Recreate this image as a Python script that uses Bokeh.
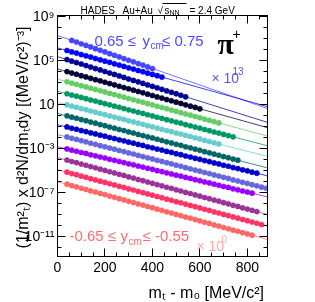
import numpy as np
from bokeh.plotting import figure
from bokeh.models import (FixedTicker, CustomJSTickFormatter, LogAxis, LinearAxis,
                          Label, BoxAnnotation, Range1d)
from bokeh.embed import file_html
from bokeh.resources import INLINE

# ---------------- data ----------------
MT_BINS = [40, 60, 80, 100, 120, 140, 160, 180, 200, 220, 240, 260, 280, 300, 320,
           340, 360, 380, 400, 420, 440, 460, 480, 500, 520, 540, 560, 580, 600, 620,
           640, 660, 680, 700, 720, 740, 760, 780, 800, 820, 840, 860, 880]

RAPIDITY_BINS = ["0.65 - 0.75", "0.55 - 0.65", "0.45 - 0.55", "0.35 - 0.45",
                 "0.25 - 0.35", "0.15 - 0.25", "0.05 - 0.15", "-0.05 - 0.05",
                 "-0.15 - -0.05", "-0.25 - -0.15", "-0.35 - -0.25", "-0.45 - -0.35",
                 "-0.55 - -0.45", "-0.65 - -0.55"]
SCALE_EXP = [13, 12, 11, 10, 9, 8, 7, 6, 5, 4, 3, 2, 1, 0]
FIRST_BIN = [1, 0, 0, 0, 0, 0, 0, 0, 0, 0, 0, 0, 0, 0]

# log10 of scaled (1/mt^2) d2N/dmt dy
LOG_S1 = [6.81, 6.67, 6.51, 6.36, 6.22, 6.06, 5.91, 5.77, 5.61, 5.46, 5.32, 5.16,
          5.01, 4.87, 4.71, 4.57, 4.41, 4.26]
LOG_S2 = [5.90, 5.77, 5.66, 5.53, 5.41, 5.30, 5.17, 5.05, 4.93, 4.82, 4.69, 4.57,
          4.45, 4.32, 4.21, 4.08, 3.97, 3.84, 3.72, 3.61, 3.48]
LOG_S3 = [5.07, 4.93, 4.80, 4.67, 4.53, 4.39, 4.26, 4.13, 3.99, 3.85, 3.72, 3.59,
          3.45, 3.31, 3.18, 3.05, 2.91, 2.77, 2.64, 2.51, 2.37, 2.23, 2.10, 1.97,
          1.83, 1.69]
LOG_S4 = [3.98, 3.85, 3.74, 3.61, 3.50, 3.37, 3.25, 3.14, 3.01, 2.89, 2.78, 2.65,
          2.53, 2.42, 2.29, 2.17, 2.06, 1.93, 1.81, 1.68, 1.57, 1.44, 1.33, 1.20,
          1.09, 0.96, 0.84, 0.73, 0.60]
LOG_S5 = [3.06, 2.93, 2.83, 2.70, 2.59, 2.47, 2.36, 2.24, 2.13, 2.00, 1.89, 1.77,
          1.66, 1.53, 1.42, 1.30, 1.19, 1.07, 0.96, 0.83, 0.72, 0.61, 0.48, 0.37,
          0.25, 0.13, 0.02, -0.10, -0.21, -0.34, -0.45, -0.56, -0.68]
LOG_S6 = [1.97, 1.85, 1.75, 1.63, 1.52, 1.40, 1.30, 1.18, 1.07, 0.96, 0.84, 0.74,
          0.62, 0.51, 0.40, 0.28, 0.18, 0.06, -0.05, -0.17, -0.27, -0.39, -0.49,
          -0.61, -0.71, -0.84, -0.94, -1.06, -1.16, -1.28, -1.39, -1.51, -1.61,
          -1.73, -1.83, -1.95]
LOG_S7 = [0.96, 0.84, 0.74, 0.62, 0.52, 0.40, 0.29, 0.17, 0.07, -0.05, -0.15,
          -0.27, -0.37, -0.49, -0.59, -0.71, -0.81, -0.93, -1.03, -1.16, -1.26,
          -1.38, -1.48, -1.60, -1.70, -1.82, -1.92, -2.04, -2.14, -2.27, -2.37,
          -2.49, -2.59]
LOG_S8 = [-0.04, -0.16, -0.26, -0.38, -0.48, -0.61, -0.71, -0.83, -0.93, -1.06,
          -1.16, -1.28, -1.38, -1.50, -1.60, -1.73, -1.83, -1.95, -2.05, -2.17,
          -2.28, -2.40, -2.50, -2.62, -2.72, -2.85, -2.95, -3.07, -3.17, -3.30,
          -3.40, -3.52, -3.62, -3.74, -3.84, -3.97, -4.07]
LOG_S9 = [-1.05, -1.17, -1.26, -1.38, -1.47, -1.59, -1.68, -1.80, -1.89, -2.01,
          -2.10, -2.22, -2.31, -2.43, -2.52, -2.64, -2.73, -2.85, -2.94, -3.06,
          -3.15, -3.27, -3.36, -3.48, -3.57, -3.69, -3.78, -3.90, -3.99, -4.11,
          -4.20, -4.32, -4.41, -4.53, -4.62, -4.74, -4.83, -4.95, -5.04, -5.16,
          -5.25]
LOG_S10 = [-1.96, -2.08, -2.18, -2.30, -2.40, -2.53, -2.63, -2.75, -2.85, -2.97,
           -3.07, -3.19, -3.29, -3.41, -3.51, -3.64, -3.74, -3.86, -3.96, -4.08,
           -4.18, -4.30, -4.40, -4.52, -4.62, -4.75, -4.85, -4.97, -5.07, -5.19,
           -5.29, -5.41, -5.51, -5.63, -5.73, -5.86, -5.96, -6.08, -6.18, -6.30,
           -6.40, -6.52, -6.62]
LOG_S11 = [-3.05, -3.16, -3.26, -3.37, -3.46, -3.58, -3.67, -3.78, -3.87, -3.99,
           -4.08, -4.19, -4.29, -4.40, -4.49, -4.61, -4.70, -4.81, -4.90, -5.02,
           -5.11, -5.22, -5.32, -5.43, -5.52, -5.64, -5.73, -5.84, -5.93, -6.05,
           -6.14, -6.25, -6.35, -6.46, -6.55, -6.67, -6.76, -6.87, -6.96, -7.07]
LOG_S12 = [-4.06, -4.19, -4.29, -4.42, -4.53, -4.65, -4.76, -4.89, -5.00, -5.12,
           -5.23, -5.36, -5.46, -5.59, -5.70, -5.83, -5.93, -6.06, -6.17, -6.29,
           -6.40, -6.53, -6.63, -6.76, -6.87, -7.00, -7.10, -7.23, -7.34, -7.46,
           -7.57, -7.70, -7.80, -7.93, -8.04, -8.17, -8.27, -8.40, -8.51, -8.63,
           -8.74]
LOG_S13 = [-5.16, -5.29, -5.39, -5.52, -5.62, -5.75, -5.86, -5.98, -6.09, -6.21,
           -6.32, -6.45, -6.55, -6.68, -6.78, -6.91, -7.02, -7.14, -7.25, -7.37,
           -7.48, -7.61, -7.71, -7.84, -7.94, -8.07, -8.18, -8.30, -8.41, -8.53,
           -8.64, -8.77, -8.87, -9.00, -9.10, -9.23, -9.34, -9.46, -9.57, -9.69,
           -9.80, -9.92]
LOG_S14 = [-6.25, -6.38, -6.49, -6.62, -6.73, -6.86, -6.96, -7.09, -7.20, -7.33,
           -7.44, -7.57, -7.68, -7.81, -7.92, -8.05, -8.15, -8.28, -8.39, -8.52,
           -8.63, -8.76, -8.87, -9.00, -9.11, -9.24, -9.34, -9.47, -9.58, -9.71,
           -9.82, -9.95, -10.06, -10.19, -10.30, -10.43, -10.53, -10.66, -10.77,
           -10.89]
SERIES = [LOG_S1, LOG_S2, LOG_S3, LOG_S4, LOG_S5, LOG_S6, LOG_S7, LOG_S8, LOG_S9,
          LOG_S10, LOG_S11, LOG_S12, LOG_S13, LOG_S14]
COLORS = ["#4646ff", "#0000ff", "#000099", "#000033", "#66cc66", "#009966",
          "#66cccc", "#006666", "#0000cc", "#6666dd", "#9900ff", "#993399",
          "#ff3366", "#ff6666"]

X_MAJOR = [0, 200, 400, 600, 800]
X_MINOR = [0, 50, 100, 150, 200, 250, 300, 350, 400, 450, 500, 550, 600, 650, 700,
           750, 800, 850]
Y_MAJOR = [1e-11, 1e-7, 1e-3, 1e1, 1e5, 1e9]
Y_MINOR = [10.0 ** k for k in range(-13, 10)]
X_RANGE = (0, 885)
Y_RANGE = (1.5e-13, 1.2e9)

# ---------------- figure ----------------
W, H = 315, 302
FL, FR, FT, FB = 57, 267, 15, 256   # frame edges in canvas pixels
FONT = "Liberation Sans"
PIN = {"position": "fixed", "left": "0px", "top": "0px"}

p = figure(width=W, height=H, y_axis_type="log",
           x_range=Range1d(*X_RANGE), y_range=Range1d(*Y_RANGE),
           output_backend="svg", toolbar_location=None,
           min_border_left=FL, min_border_right=W - FR,
           min_border_top=FT, min_border_bottom=H - FB)
p.styles = PIN
p.background_fill_color = "white"
p.border_fill_color = "white"
p.outline_line_color = "black"
p.outline_line_width = 1
p.xgrid.visible = False
p.ygrid.visible = False

sup_js = """
const e = Math.round(Math.log10(tick));
if (e == 1) return "10";
if (e == 0) return "1";
const s = {"-":"\u207b","0":"\u2070","1":"\u00b9","2":"\u00b2","3":"\u00b3","4":"\u2074",
           "5":"\u2075","6":"\u2076","7":"\u2077","8":"\u2078","9":"\u2079"};
return "10" + String(e).split("").map(c => s[c]).join("");
"""

yax = p.yaxis[0]
yax.ticker = FixedTicker(ticks=Y_MAJOR, minor_ticks=Y_MINOR)
yax.formatter = CustomJSTickFormatter(code=sup_js)
xax = p.xaxis[0]
xax.ticker = FixedTicker(ticks=X_MAJOR, minor_ticks=X_MINOR)

for ax in (xax, yax):
    ax.major_tick_in = 8
    ax.major_tick_out = 0
    ax.minor_tick_in = 4
    ax.minor_tick_out = 0
    ax.axis_line_color = "black"
    ax.major_tick_line_color = "black"
    ax.minor_tick_line_color = "black"
    ax.major_label_text_font = FONT
    ax.major_label_text_font_size = "14px"
    ax.major_label_text_color = "black"
yax.major_label_standoff = 3
xax.major_label_standoff = 5

blank = CustomJSTickFormatter(code="return ''")
ry = LogAxis(ticker=FixedTicker(ticks=Y_MAJOR, minor_ticks=Y_MINOR), formatter=blank,
             major_tick_in=8, major_tick_out=0, minor_tick_in=4, minor_tick_out=0,
             major_label_text_font_size="1px", major_label_standoff=0)
p.add_layout(ry, "right")
tx = LinearAxis(ticker=FixedTicker(ticks=X_MAJOR, minor_ticks=X_MINOR), formatter=blank,
                major_tick_in=8, major_tick_out=0, minor_tick_in=4, minor_tick_out=0,
                major_label_text_font_size="1px", major_label_standoff=0)
p.add_layout(tx, "above")

# ---------------- data marks ----------------
xline = np.array(X_RANGE, dtype=float)
for vals, first, col in zip(SERIES, FIRST_BIN, COLORS):
    xs = np.array(MT_BINS[first:first + len(vals)], dtype=float)
    lv = np.array(vals)
    k, b = np.polyfit(xs, lv, 1)
    p.line(xline, 10 ** (b + k * xline), line_color=col, line_alpha=0.75, line_width=1)
for vals, first, col in zip(SERIES, FIRST_BIN, COLORS):
    xs = np.array(MT_BINS[first:first + len(vals)], dtype=float)
    p.scatter(xs, 10 ** np.array(vals), marker="circle", size=5.2,
              fill_color=col, line_color=col, line_width=0.5)

# ---------------- text overlay (transparent, pixel coordinates, y down) ----------------
ov = figure(width=W, height=H, x_range=Range1d(0, W), y_range=Range1d(H, 0),
            output_backend="svg", toolbar_location=None, min_border=0,
            x_axis_location=None, y_axis_location=None)
ov.styles = PIN
ov.outline_line_color = None
ov.background_fill_alpha = 0
ov.border_fill_alpha = 0
ov.xgrid.visible = False
ov.ygrid.visible = False


def lab(text, x, y, size, color="black", align="left", font=FONT, style="normal",
        angle=0, baseline="alphabetic"):
    ov.add_layout(Label(text=text, x=x, y=y, text_font=font,
                        text_font_size=f"{size}px", text_color=color,
                        text_align=align, text_baseline=baseline,
                        text_font_style=style, angle=angle, angle_units="deg"))


# title
lab("HADES", 80, 10, 10)
lab("Au+Au", 122, 10, 10)
lab("\u221a", 157, 10, 10)
lab("s", 164, 10, 10)
lab("NN", 169, 12, 7)
lab("= 2.4 GeV", 189, 10, 10)
ov.add_layout(BoxAnnotation(left=162, right=186, top=2.5, bottom=3.5,
                            fill_color="black", fill_alpha=1, line_color=None))

# axis titles
lab("(1/m\u00b2\u209c) x d\u00b2N/dm\u209cdy [(MeV/c\u00b2)\u207b\u00b3]", 22, 137, 16,
    align="center", angle=90, baseline="middle")
lab("m\u209c - m\u2080  [MeV/c\u00b2]", 268, 292, 16, align="right")

# annotations
blue_t = "#4b4bff"
lab("0.65 \u2264", 94, 40, 15, blue_t)
lab("y", 142, 40, 15, blue_t)
lab("cm", 150, 45, 10, blue_t)
lab("\u2264 0.75", 161.5, 40, 15, blue_t)

lab("\u03c0", 217, 43, 30, "black", font="Liberation Serif", style="bold")
lab("+", 232, 33, 14, "black")

lab("\u00d7 10", 211, 77, 14, "#5a5ae0")
lab("13", 232, 70, 10, "#5a5ae0")

red_t = "#ff6b6b"
lab("-0.65 \u2264", 69, 235, 15, red_t)
lab("y", 120, 235, 15, red_t)
lab("cm", 128, 241, 10, red_t)
lab("\u2264 -0.55", 142, 235, 15, red_t)

lab("\u00d7 10", 196, 245, 14, "#ffaaaa")
lab("0", 221, 238, 10, "#ffaaaa")

open("out.html", "w").write(file_html([p, ov], INLINE))
